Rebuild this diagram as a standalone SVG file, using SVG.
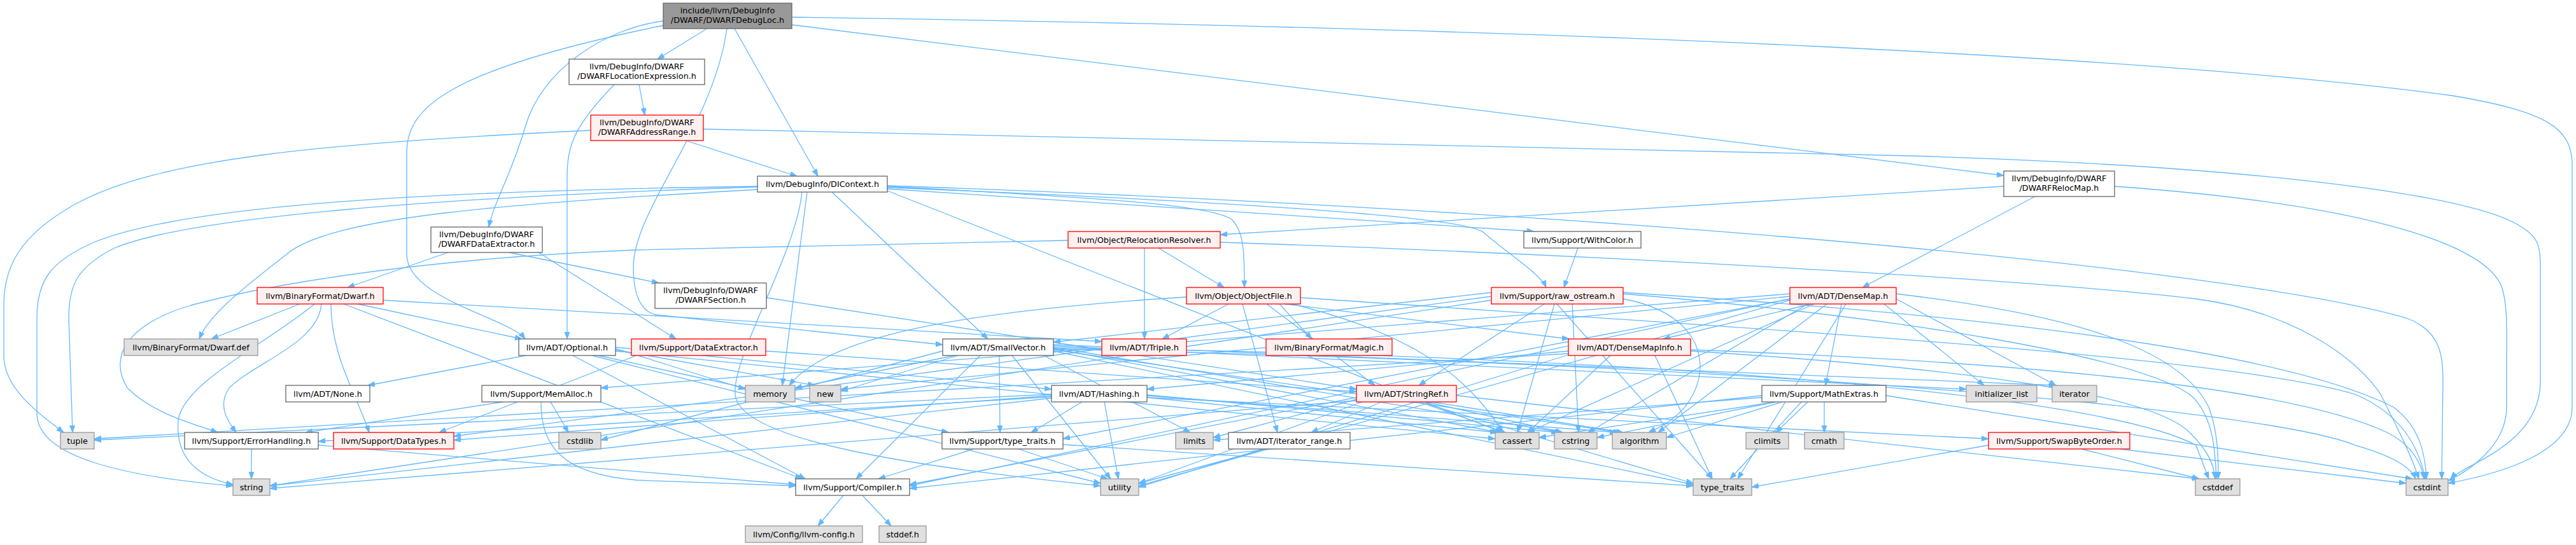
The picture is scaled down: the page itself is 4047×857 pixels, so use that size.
<svg xmlns="http://www.w3.org/2000/svg" width="4047" height="857" viewBox="0 0 4047 857">
<style>
#edges path{fill:none;stroke:#63b8ff;stroke-width:1.3;marker-end:url(#a)}
.node rect{stroke-width:1.3}
.w rect{fill:#ffffff;stroke:#666666}
.r rect{fill:#fff0f0;stroke:#ff0000}
.g rect{fill:#e0e0e0;stroke:#999999}
.root rect{fill:#999999;stroke:#666666}
.node text{font-family:"DejaVu Sans","Liberation Sans",sans-serif;font-size:12.8px;fill:#000;text-anchor:middle}
</style>
<defs>
<marker id="a" markerUnits="userSpaceOnUse" markerWidth="12" markerHeight="9" refX="11" refY="4" orient="auto">
<path d="M0,0 L11,4 L0,8 z" fill="#63b8ff" stroke="#63b8ff" stroke-width="1"/>
</marker>
</defs>
<rect width="4047" height="857" fill="#ffffff"/>
<g id="edges">
<path d="M1110.6,45 L1032.9,93"/>
<path d="M1154,45 L1285,277"/>
<path d="M1042,33 C950,45 850,110 825,200 C805,270 775,320 768,357"/>
<path d="M1042,40 C700,110 639,170 639,240 L639,400 C639,470 800,500 825,533"/>
<path d="M1142,45 C1120,200 995,330 995,420 C995,470 1010,490 1030,495 L1481,542"/>
<path d="M1244,39 L3148,276"/>
<path d="M1244,27 C2500,45 3400,90 3850,150 C4000,175 4041,200 4041,260 L4041,640 C4041,720 3900,750 3846,760"/>
<path d="M1004,133 L1013,181"/>
<path d="M965,133 C900,200 891,230 891,280 L891,533"/>
<path d="M1077,221 L1252,277"/>
<path d="M928,205 C500,225 250,250 120,320 C30,370 6,420 6,480 L6,560 C6,610 60,650 100,680"/>
<path d="M1105,203 L3000,245 C3500,260 3850,300 3950,350 C3985,370 3991,380 3991,420 L3991,600 C3991,700 3870,730 3850,753"/>
<path d="M1307,302 L1552,533"/>
<path d="M1394,293 C1700,310 1900,320 1935,345 C1955,365 1955,400 1955,452"/>
<path d="M1394,297 L2410,364"/>
<path d="M1394,295 C1900,315 2300,340 2330,365 C2370,400 2420,430 2429,452"/>
<path d="M1190,298 C800,320 520,340 450,400 C400,440 330,490 313,533"/>
<path d="M1190,294 C700,310 300,340 180,390 C120,420 108,450 108,500 L114,680"/>
<path d="M1190,293 C700,300 300,320 150,380 C80,410 58,440 58,500 L58,650 C58,720 200,750 366,764"/>
<path d="M1268,302 L1229,606"/>
<path d="M1260,302 C1250,400 1150,560 1155,620 C1160,700 1500,740 1729,764"/>
<path d="M1394,292 C2500,330 3500,420 3780,500 C3835,520 3838,560 3838,600 L3836,753"/>
<path d="M1394,300 L2360,680"/>
<path d="M704,397 L546,452"/>
<path d="M800,397 L1035,445"/>
<path d="M846,397 L1062,533"/>
<path d="M3148,293 L1917,369"/>
<path d="M3197,309 L2926,452"/>
<path d="M3322,293 C3700,320 3900,380 3930,450 C3940,480 3938,520 3938,560 L3938,640 C3938,700 3880,740 3846,756"/>
<path d="M1678,378 L1000,393 C700,405 450,440 300,480 C200,510 170,560 200,610 C240,650 300,665 342,680"/>
<path d="M1798,390 L1798,533"/>
<path d="M1820,390 L1923,452"/>
<path d="M1917,381 C2500,400 3200,440 3450,470 C3600,490 3700,560 3740,620 C3770,680 3790,720 3800,753"/>
<path d="M2479,390 L2457,452"/>
<path d="M471,478 L332,533"/>
<path d="M562,478 L820,533"/>
<path d="M602,472 L1731,537"/>
<path d="M505,478 C500,540 400,570 360,610 C340,640 360,665 371,680"/>
<path d="M520,478 C520,560 560,620 580,680"/>
<path d="M494,478 C420,540 290,600 280,660 C275,720 310,750 366,762"/>
<path d="M540,478 L1260,753"/>
<path d="M1204,468 L2131,612"/>
<path d="M1864,467 C1500,490 1300,530 1240,606"/>
<path d="M1930,478 L1826,533"/>
<path d="M2010,478 L2061,533"/>
<path d="M1952,478 L2007,680"/>
<path d="M2019,478 L2465,533"/>
<path d="M1990,478 L2160,606"/>
<path d="M2030,478 C2200,520 2300,580 2361,680"/>
<path d="M2043,468 C2800,520 3500,560 3700,620 C3770,650 3800,700 3810,753"/>
<path d="M2343,460 L1655,538"/>
<path d="M2426,478 L2229,606"/>
<path d="M2343,466 L713,686"/>
<path d="M2442,478 L2384,680"/>
<path d="M2470,478 L2480,680"/>
<path d="M2550,470 C2660,490 2690,560 2660,620 C2640,660 2600,675 2590,680"/>
<path d="M2550,462 C3000,500 3350,560 3440,620 C3475,650 3480,700 3482,753"/>
<path d="M2550,460 C3200,500 3600,560 3760,640 C3800,670 3810,710 3812,753"/>
<path d="M2343,472 L424,764"/>
<path d="M2446,478 L2690,753"/>
<path d="M2846,478 L2613,533"/>
<path d="M2893,478 L2868,606"/>
<path d="M2812,462 L944,610"/>
<path d="M2812,470 L1429,764"/>
<path d="M2812,470 L1670,690"/>
<path d="M2870,478 L2605,680"/>
<path d="M2850,478 L2400,680"/>
<path d="M2840,478 L2495,680"/>
<path d="M2960,478 L3117,606"/>
<path d="M2979,470 L3230,606"/>
<path d="M2812,466 L1321,612"/>
<path d="M2979,462 C3300,500 3430,560 3470,640 C3485,680 3485,720 3485,753"/>
<path d="M2900,478 L2730,753"/>
<path d="M2812,472 L1789,764"/>
<path d="M2464,552 L1802,612"/>
<path d="M2530,559 L2400,680"/>
<path d="M2656,552 C3100,580 3380,620 3440,680 C3470,710 3478,730 3480,753"/>
<path d="M2656,550 C3200,570 3600,610 3750,680 C3790,700 3805,730 3808,753"/>
<path d="M2464,556 L148,690"/>
<path d="M2600,559 L2690,753"/>
<path d="M2464,558 L1789,766"/>
<path d="M826,559 L578,606"/>
<path d="M967,546 L1652,612"/>
<path d="M900,559 L1265,753"/>
<path d="M940,559 L1490,680"/>
<path d="M967,552 L2349,690"/>
<path d="M967,548 L1171,612"/>
<path d="M967,550 L1280,606"/>
<path d="M930,559 L1729,760"/>
<path d="M1203,552 L2131,616"/>
<path d="M1000,559 L690,680"/>
<path d="M1540,559 L1345,753"/>
<path d="M1570,559 L1571,680"/>
<path d="M1500,559 L1249,610"/>
<path d="M1505,559 L1321,615"/>
<path d="M1481,552 L944,692"/>
<path d="M1640,559 L1870,680"/>
<path d="M1590,559 L1745,753"/>
<path d="M1655,550 L2545,680"/>
<path d="M1655,548 L2355,680"/>
<path d="M1655,546 L2452,680"/>
<path d="M1655,544 L3089,612"/>
<path d="M1655,542 L3230,606"/>
<path d="M1655,547 C2600,560 3300,620 3450,700 L3470,753"/>
<path d="M1655,549 C2700,570 3550,640 3700,700 C3770,720 3790,740 3795,753"/>
<path d="M1655,552 L2660,762"/>
<path d="M1652,622 L713,692"/>
<path d="M1652,624 L500,694"/>
<path d="M1802,625 L3124,690"/>
<path d="M1700,632 L1620,680"/>
<path d="M1802,622 L2540,680"/>
<path d="M1802,625 L2352,680"/>
<path d="M1802,621 L2448,680"/>
<path d="M1652,626 L424,764"/>
<path d="M1652,620 L148,692"/>
<path d="M1735,632 L1757,753"/>
<path d="M2170,632 L2060,680"/>
<path d="M2131,625 L1429,762"/>
<path d="M2250,632 L2550,680"/>
<path d="M2230,632 L2365,680"/>
<path d="M2240,632 L2455,680"/>
<path d="M2288,622 L3455,753"/>
<path d="M2131,628 L1906,688"/>
<path d="M2131,630 L424,768"/>
<path d="M2230,632 L2660,760"/>
<path d="M2140,632 L1789,760"/>
<path d="M2768,622 L1429,768"/>
<path d="M2790,632 L2418,688"/>
<path d="M2840,632 L2790,680"/>
<path d="M2866,632 L2866,680"/>
<path d="M2963,622 L3790,753"/>
<path d="M2790,632 L2509,688"/>
<path d="M2768,625 L1906,692"/>
<path d="M2830,632 L2718,753"/>
<path d="M2800,632 L2618,688"/>
<path d="M3270,706 L3455,753"/>
<path d="M3330,706 L3780,760"/>
<path d="M3124,700 L2752,766"/>
<path d="M850,632 C850,700 880,745 1000,755 L1250,764"/>
<path d="M790,632 L480,680"/>
<path d="M865,632 L893,680"/>
<path d="M395,706 L395,753"/>
<path d="M500,700 L1250,762"/>
<path d="M1530,706 L1380,753"/>
<path d="M1670,699 L2660,764"/>
<path d="M1600,706 L1740,753"/>
<path d="M1990,706 L1789,760"/>
<path d="M1325,779 L1285,827"/>
<path d="M1355,779 L1400,827"/>
</g>
<g id="n_root" class="node root"><rect x="1042" y="5" width="202" height="40"/><text x="1143" y="21">include/llvm/DebugInfo</text><text x="1143" y="36">/DWARF/DWARFDebugLoc.h</text></g>
<g id="n_locexpr" class="node w"><rect x="894" y="93" width="213" height="40"/><text x="1000.5" y="109">llvm/DebugInfo/DWARF</text><text x="1000.5" y="124">/DWARFLocationExpression.h</text></g>
<g id="n_addrrange" class="node r"><rect x="928" y="181" width="177" height="40"/><text x="1016.5" y="197">llvm/DebugInfo/DWARF</text><text x="1016.5" y="212">/DWARFAddressRange.h</text></g>
<g id="n_dicontext" class="node w"><rect x="1190" y="277" width="204" height="25"/><text x="1292" y="294">llvm/DebugInfo/DIContext.h</text></g>
<g id="n_relocmap" class="node w"><rect x="3148" y="269" width="174" height="40"/><text x="3235" y="285">llvm/DebugInfo/DWARF</text><text x="3235" y="300">/DWARFRelocMap.h</text></g>
<g id="n_dwdataext" class="node w"><rect x="677" y="357" width="175" height="40"/><text x="764.5" y="373">llvm/DebugInfo/DWARF</text><text x="764.5" y="388">/DWARFDataExtractor.h</text></g>
<g id="n_relocres" class="node r"><rect x="1678" y="364" width="239" height="26"/><text x="1797.5" y="381.5">llvm/Object/RelocationResolver.h</text></g>
<g id="n_withcolor" class="node w"><rect x="2394" y="364" width="184" height="26"/><text x="2486" y="381.5">llvm/Support/WithColor.h</text></g>
<g id="n_dwarfh" class="node r"><rect x="404" y="452" width="198" height="26"/><text x="503" y="469.5">llvm/BinaryFormat/Dwarf.h</text></g>
<g id="n_dwsection" class="node w"><rect x="1029" y="445" width="175" height="40"/><text x="1116.5" y="461">llvm/DebugInfo/DWARF</text><text x="1116.5" y="476">/DWARFSection.h</text></g>
<g id="n_objectfile" class="node r"><rect x="1864" y="452" width="179" height="26"/><text x="1953.5" y="469.5">llvm/Object/ObjectFile.h</text></g>
<g id="n_rawostream" class="node r"><rect x="2343" y="452" width="207" height="26"/><text x="2446.5" y="469.5">llvm/Support/raw_ostream.h</text></g>
<g id="n_densemap" class="node r"><rect x="2812" y="452" width="167" height="26"/><text x="2895.5" y="469.5">llvm/ADT/DenseMap.h</text></g>
<g id="n_dwarfdef" class="node g"><rect x="195" y="533" width="210" height="26"/><text x="300" y="550.5">llvm/BinaryFormat/Dwarf.def</text></g>
<g id="n_optional" class="node w"><rect x="815" y="533" width="152" height="26"/><text x="891" y="550.5">llvm/ADT/Optional.h</text></g>
<g id="n_supdataext" class="node r"><rect x="992" y="533" width="211" height="26"/><text x="1097.5" y="550.5">llvm/Support/DataExtractor.h</text></g>
<g id="n_smallvector" class="node w"><rect x="1481" y="533" width="174" height="26"/><text x="1568" y="550.5">llvm/ADT/SmallVector.h</text></g>
<g id="n_triple" class="node r"><rect x="1731" y="533" width="133" height="26"/><text x="1797.5" y="550.5">llvm/ADT/Triple.h</text></g>
<g id="n_magic" class="node r"><rect x="1989" y="533" width="198" height="26"/><text x="2088" y="550.5">llvm/BinaryFormat/Magic.h</text></g>
<g id="n_densemapinfo" class="node r"><rect x="2464" y="533" width="192" height="26"/><text x="2560" y="550.5">llvm/ADT/DenseMapInfo.h</text></g>
<g id="n_none" class="node w"><rect x="449" y="606" width="132" height="26"/><text x="515" y="623.5">llvm/ADT/None.h</text></g>
<g id="n_memalloc" class="node w"><rect x="757" y="606" width="187" height="26"/><text x="850.5" y="623.5">llvm/Support/MemAlloc.h</text></g>
<g id="n_memory" class="node g"><rect x="1171" y="606" width="78" height="26"/><text x="1210" y="623.5">memory</text></g>
<g id="n_new" class="node g"><rect x="1272" y="606" width="49" height="26"/><text x="1296.5" y="623.5">new</text></g>
<g id="n_hashing" class="node w"><rect x="1652" y="606" width="150" height="26"/><text x="1727" y="623.5">llvm/ADT/Hashing.h</text></g>
<g id="n_stringref" class="node r"><rect x="2131" y="606" width="157" height="26"/><text x="2209.5" y="623.5">llvm/ADT/StringRef.h</text></g>
<g id="n_mathextras" class="node w"><rect x="2768" y="606" width="195" height="26"/><text x="2865.5" y="623.5">llvm/Support/MathExtras.h</text></g>
<g id="n_initlist" class="node g"><rect x="3089" y="606" width="111" height="26"/><text x="3144.5" y="623.5">initializer_list</text></g>
<g id="n_iterator" class="node g"><rect x="3224" y="606" width="70" height="26"/><text x="3259" y="623.5">iterator</text></g>
<g id="n_tuple" class="node g"><rect x="95" y="680" width="53" height="26"/><text x="121.5" y="697.5">tuple</text></g>
<g id="n_errorhandling" class="node w"><rect x="290" y="680" width="210" height="26"/><text x="395" y="697.5">llvm/Support/ErrorHandling.h</text></g>
<g id="n_datatypes" class="node r"><rect x="524" y="680" width="189" height="26"/><text x="618.5" y="697.5">llvm/Support/DataTypes.h</text></g>
<g id="n_cstdlib" class="node g"><rect x="878" y="680" width="66" height="26"/><text x="911" y="697.5">cstdlib</text></g>
<g id="n_typetraitsh" class="node w"><rect x="1480" y="680" width="190" height="26"/><text x="1575" y="697.5">llvm/Support/type_traits.h</text></g>
<g id="n_limits" class="node g"><rect x="1847" y="680" width="59" height="26"/><text x="1876.5" y="697.5">limits</text></g>
<g id="n_iterrange" class="node w"><rect x="1930" y="680" width="191" height="26"/><text x="2025.5" y="697.5">llvm/ADT/iterator_range.h</text></g>
<g id="n_cassert" class="node g"><rect x="2349" y="680" width="69" height="26"/><text x="2383.5" y="697.5">cassert</text></g>
<g id="n_cstring" class="node g"><rect x="2442" y="680" width="67" height="26"/><text x="2475.5" y="697.5">cstring</text></g>
<g id="n_algorithm" class="node g"><rect x="2533" y="680" width="85" height="26"/><text x="2575.5" y="697.5">algorithm</text></g>
<g id="n_climits" class="node g"><rect x="2743" y="680" width="67" height="26"/><text x="2776.5" y="697.5">climits</text></g>
<g id="n_cmath" class="node g"><rect x="2835" y="680" width="62" height="26"/><text x="2866" y="697.5">cmath</text></g>
<g id="n_swapbyteorder" class="node r"><rect x="3124" y="680" width="222" height="26"/><text x="3235" y="697.5">llvm/Support/SwapByteOrder.h</text></g>
<g id="n_string" class="node g"><rect x="366" y="753" width="58" height="26"/><text x="395" y="770.5">string</text></g>
<g id="n_compiler" class="node w"><rect x="1250" y="753" width="179" height="26"/><text x="1339.5" y="770.5">llvm/Support/Compiler.h</text></g>
<g id="n_utility" class="node g"><rect x="1729" y="753" width="60" height="26"/><text x="1759" y="770.5">utility</text></g>
<g id="n_typetraits" class="node g"><rect x="2660" y="753" width="92" height="26"/><text x="2706" y="770.5">type_traits</text></g>
<g id="n_cstddef" class="node g"><rect x="3449" y="753" width="70" height="26"/><text x="3484" y="770.5">cstddef</text></g>
<g id="n_cstdint" class="node g"><rect x="3780" y="753" width="66" height="26"/><text x="3813" y="770.5">cstdint</text></g>
<g id="n_llvmconfig" class="node g"><rect x="1171" y="827" width="184" height="26"/><text x="1263" y="844.5">llvm/Config/llvm-config.h</text></g>
<g id="n_stddef" class="node g"><rect x="1381" y="827" width="74" height="26"/><text x="1418" y="844.5">stddef.h</text></g>
</svg>
